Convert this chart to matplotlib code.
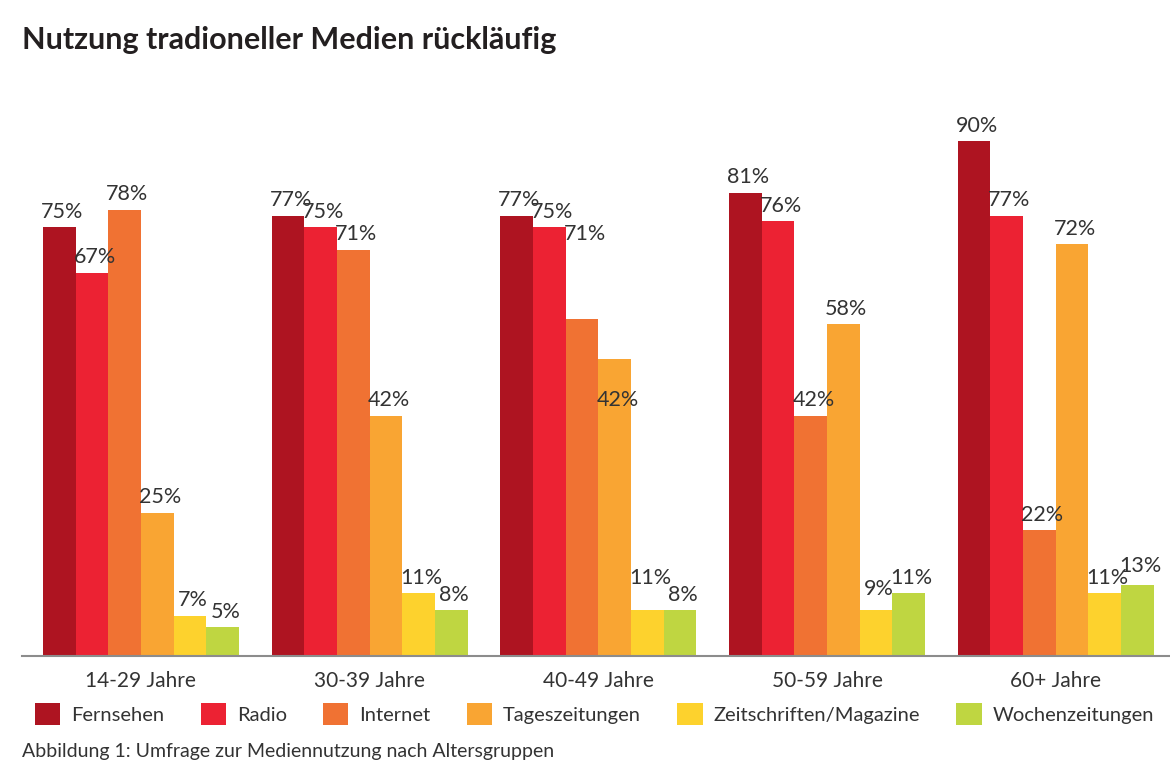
import matplotlib
matplotlib.use('Agg')
import matplotlib.pyplot as plt
from matplotlib.patches import Patch
import numpy as np

plt.rcParams['font.family'] = ['Lato', 'DejaVu Sans']

# data
groups = ['14-29 Jahre', '30-39 Jahre', '40-49 Jahre', '50-59 Jahre', '60+ Jahre']
media = ['Fernsehen', 'Radio', 'Internet', 'Tageszeitungen', 'Zeitschriften/Magazine', 'Wochenzeitungen']
colors = ['#ae1421', '#ec2233', '#f07233', '#f9a533', '#fdd22d', '#bfd641']

# bar heights per medium (one value per age group)
fernsehen = [75, 77, 77, 81, 90]
radio = [67, 75, 75, 76, 77]
internet = [78, 71, 59, 42, 22]
tageszeitungen = [25, 42, 52, 58, 72]
zeitschriften = [7, 11, 8, 8, 11]
wochenzeitungen = [5, 8, 8, 11, 12.5]

# printed labels (the 40-49 group in the original repeats the 30-39 labels)
lab_fernsehen = [75, 77, 77, 81, 90]
lab_radio = [67, 75, 75, 76, 77]
lab_internet = [78, 71, 71, 42, 22]
lab_tageszeitungen = [25, 42, 42, 58, 72]
lab_zeitschriften = [7, 11, 11, 9, 11]
lab_wochenzeitungen = [5, 8, 8, 11, 13]

heights = [fernsehen, radio, internet, tageszeitungen, zeitschriften, wochenzeitungen]
labels = [lab_fernsehen, lab_radio, lab_internet, lab_tageszeitungen, lab_zeitschriften, lab_wochenzeitungen]

fig = plt.figure(figsize=(11.7, 7.76), dpi=100)
ax = fig.add_axes([0.0188, 0.1546, 0.9812, 0.737])

x = np.arange(len(groups))
w = 1 / 7
txt = '#333333'
for j in range(len(media)):
    pos = x + (j - 2.5) * w
    ax.bar(pos, heights[j], width=w, color=colors[j], linewidth=0)
    for p, v in zip(pos, labels[j]):
        ax.annotate(f'{v}%', (p, v), xytext=(2, 4), textcoords='offset points',
                    ha='center', va='bottom', fontsize=15.5, color=txt)

ax.set_xlim(-0.52, 4.5)
ax.set_ylim(0, 100)
for s in ['top', 'right', 'left']:
    ax.spines[s].set_visible(False)
ax.spines['bottom'].set_color('#8c8c8c')
ax.spines['bottom'].set_linewidth(1.5)
ax.set_yticks([])
ax.set_xticks(x)
ax.set_xticklabels(groups, fontsize=15, color=txt)
ax.tick_params(axis='x', length=0, pad=10.5)

handles = [Patch(facecolor=c, edgecolor='none') for c in colors]
fig.legend(handles, media, loc='center left', bbox_to_anchor=(0.03, 0.08), ncol=6,
           frameon=False, fontsize=14.5, handlelength=1.25, handleheight=1.25,
           handletextpad=0.55, columnspacing=1.8, labelcolor=txt, borderpad=0,
           borderaxespad=0)

fig.text(0.0188, 0.948, 'Nutzung tradioneller Medien rückläufig', fontsize=22,
         fontweight='bold', color='#231f20', va='center')
fig.text(0.0188, 0.031, 'Abbildung 1: Umfrage zur Mediennutzung nach Altersgruppen',
         fontsize=14, color=txt, va='center')

fig.savefig('out.png', dpi=100)
